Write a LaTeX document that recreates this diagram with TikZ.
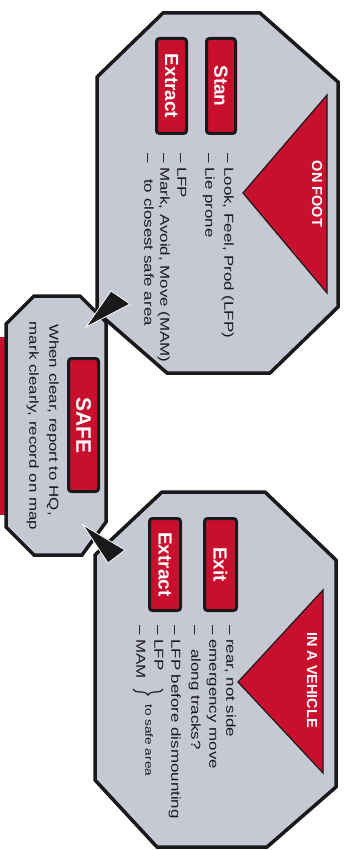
\documentclass[tikz,border=0pt]{standalone}
\usepackage{fontspec}
\setmainfont{Liberation Sans}
\newfontfamily\widefont[FakeStretch=1.3]{Liberation Sans}
\usetikzlibrary{decorations.pathreplacing}
\definecolor{panelgrey}{RGB}{198,201,212}
\definecolor{signred}{RGB}{200,16,46}
\definecolor{inkblack}{RGB}{25,25,28}
\tikzset{
  panel/.style={draw=inkblack, line width=3.5pt, fill=panelgrey, line join=miter},
  redtri/.style={fill=signred, draw=inkblack, line width=1.2pt, line join=miter},
  redbox/.style={draw=inkblack, line width=3pt, fill=signred, rounded corners=3pt,
    rotate=-90, text=white, font=\bfseries\fontsize{19}{21}\selectfont, inner sep=0pt},
  bulletline/.style={rotate=-90, anchor=mid west, inner sep=0pt,
    font=\widefont\fontsize{13}{15}\selectfont, text=inkblack},
  centerline/.style={rotate=-90, anchor=mid, inner sep=0pt,
    font=\widefont\fontsize{13}{15}\selectfont, text=inkblack},
  headlabel/.style={rotate=-90, text=white, font=\bfseries\fontsize{14.5}{16}\selectfont, inner sep=0pt},
  arrowtri/.style={fill=inkblack, draw=white, line width=0.8pt, line join=miter}
}
\begin{document}
\begin{tikzpicture}[x=1pt, y=-1pt]
\useasboundingbox (0,0) rectangle (344,850);
\fill[white] (0,0) rectangle (344,850);

% partial red strip at the left edge
\fill[signred] (0,337) rectangle (9,515);

% SAFE panel
\draw[panel] (34,296) -- (80,296) -- (106,322) -- (106,522) -- (82,555) -- (34,555) -- (6,527) -- (6,324) -- cycle;

% ON FOOT panel
\draw[panel] (163,13) -- (260,13) -- (338,82) -- (338,307) -- (270,373) -- (167,373) -- (97,312) -- (97,77) -- cycle;

% IN A VEHICLE panel
\draw[panel] (162,492) -- (265,492) -- (336,560) -- (336,787) -- (267,847) -- (157,847) -- (95,780) -- (95,555) -- cycle;

% red triangles with headings
\draw[redtri] (327,95) -- (327,293) -- (243,193) -- cycle;
\node[headlabel] (onfoot) at (317,194) {ON FOOT};
\draw[redtri] (323,590) -- (323,773) -- (238,682) -- cycle;
\node[headlabel] (vehicle) at (312,680) {IN A VEHICLE};

% red boxes
\node[redbox, minimum width=95pt, minimum height=29pt] (stan) at (221,86) {Stan};
\node[redbox, minimum width=95pt, minimum height=30pt] (extract1) at (171.5,86) {Extract};
\node[redbox, minimum width=92pt, minimum height=32pt] (exit) at (220.5,564.5) {Exit};
\node[redbox, minimum width=92pt, minimum height=31pt] (extract2) at (165,564.5) {Extract};
\node[redbox, minimum width=133pt, minimum height=30pt, font=\bfseries\fontsize{21}{23}\selectfont] (safe) at (83.5,425) {SAFE};

% ON FOOT text
\node[bulletline] (f1) at (227,153) {– Look, Feel, Prod (LFP)};
\node[bulletline] (f2) at (208,153) {– Lie prone};
\node[bulletline] (f3) at (180,153) {– LFP};
\node[bulletline] (f4) at (163,153) {– Mark, Avoid, Move (MAM)};
\node[bulletline] (f5) at (147,153) {–\hspace{12pt} to closest safe area};

% IN A VEHICLE text
\node[bulletline] (v1) at (229,625) {– rear, not side};
\node[bulletline] (v2) at (212,625) {– emergency move};
\node[bulletline] (v3) at (194,625) {–\hspace{10pt} along tracks?};
\node[bulletline] (v4) at (174,625) {– LFP before dismounting};
\node[bulletline] (v5) at (157,625) {– LFP};
\node[bulletline] (v6) at (139,625) {– MAM};
\coordinate (braceA) at (163,689);
\coordinate (braceB) at (133,689);
\draw[decorate, decoration={brace, amplitude=6pt}, line width=1.1pt, inkblack] (braceA) -- (braceB);
\node[bulletline, font=\widefont\fontsize{10.5}{12}\selectfont] (tosafe) at (148,704) {to safe area};

% SAFE text
\node[centerline] (s1) at (52,420) {When clear, report to HQ,};
\node[centerline] (s2) at (32,426) {mark clearly, record on map};

% arrowheads pointing to SAFE
\coordinate (a1tip) at (86,327);
\coordinate (a1l) at (111,291);
\coordinate (a1r) at (130,304);
\draw[arrowtri] (a1tip) -- (a1l) -- (a1r) -- cycle;
\coordinate (a2tip) at (83,525);
\coordinate (a2l) at (108,563);
\coordinate (a2r) at (125,550);
\draw[arrowtri] (a2tip) -- (a2l) -- (a2r) -- cycle;
\end{tikzpicture}
\end{document}
